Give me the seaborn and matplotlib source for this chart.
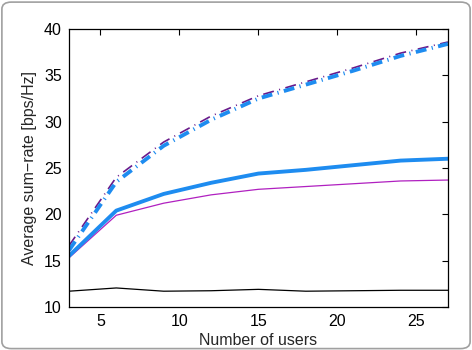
import numpy as np
import pandas as pd
import matplotlib
matplotlib.use("Agg")
import matplotlib.pyplot as plt
from matplotlib.patches import FancyBboxPatch
import seaborn as sns

users = [3, 6, 9, 12, 15, 18, 21, 24, 27]
black_rate = [11.7, 12.05, 11.7, 11.75, 11.9, 11.7, 11.75, 11.8, 11.8]
magenta_rate = [15.3, 19.9, 21.2, 22.1, 22.7, 23.0, 23.3, 23.6, 23.7]
blue_rate = [15.5, 20.4, 22.2, 23.4, 24.4, 24.8, 25.3, 25.8, 26.0]
purple_dashdot = [16.6, 24.0, 27.8, 30.6, 32.8, 34.3, 35.8, 37.4, 38.6]
blue_dashdot = [16.1, 23.5, 27.4, 30.2, 32.5, 34.0, 35.5, 37.1, 38.4]

sns.set_style("white")
plt.rcParams['font.family'] = ['Liberation Sans', 'DejaVu Sans']

fig = plt.figure(figsize=(4.72, 3.5), dpi=100)
ax = fig.add_axes([0.146, 0.123, 0.803, 0.794])

sns.lineplot(x=users, y=black_rate, ax=ax, color='black', linewidth=0.9)
sns.lineplot(x=users, y=magenta_rate, ax=ax, color='#b020c0', linewidth=0.9)
sns.lineplot(x=users, y=blue_rate, ax=ax, color='#1e8cf0', linewidth=2.8)
sns.lineplot(x=users, y=purple_dashdot, ax=ax, color='#6a1a8a', linewidth=1.2,
             linestyle=(0, (6.6, 3.3, 0.6, 3.3)))
sns.lineplot(x=users, y=blue_dashdot, ax=ax, color='#1e8cf0', linewidth=2.8,
             linestyle=(0, (2.8, 1.4, 0.3, 1.4)))

ax.set_xlim(3, 27)
ax.set_ylim(10, 40)
ax.set_xticks([5, 10, 15, 20, 25])
ax.set_yticks([10, 15, 20, 25, 30, 35, 40])
ax.tick_params(direction='in', top=True, right=True, length=4, width=0.8,
               labelsize=11.5, colors='black', pad=5)
for s in ax.spines.values():
    s.set_color('black')
    s.set_linewidth(0.9)
ax.set_xlabel('Number of users', fontsize=11.5, labelpad=3)
ax.set_ylabel('Average sum\u2212rate [bps/Hz]', fontsize=11.5, labelpad=5)

border = FancyBboxPatch((0.004, 0.004), 0.992, 0.99, boxstyle="round,pad=0,rounding_size=0.02",
                        transform=fig.transFigure, fill=False, edgecolor='#a0a0a0', linewidth=1.2)
fig.patches.append(border)

fig.savefig('out.png', dpi=100)
